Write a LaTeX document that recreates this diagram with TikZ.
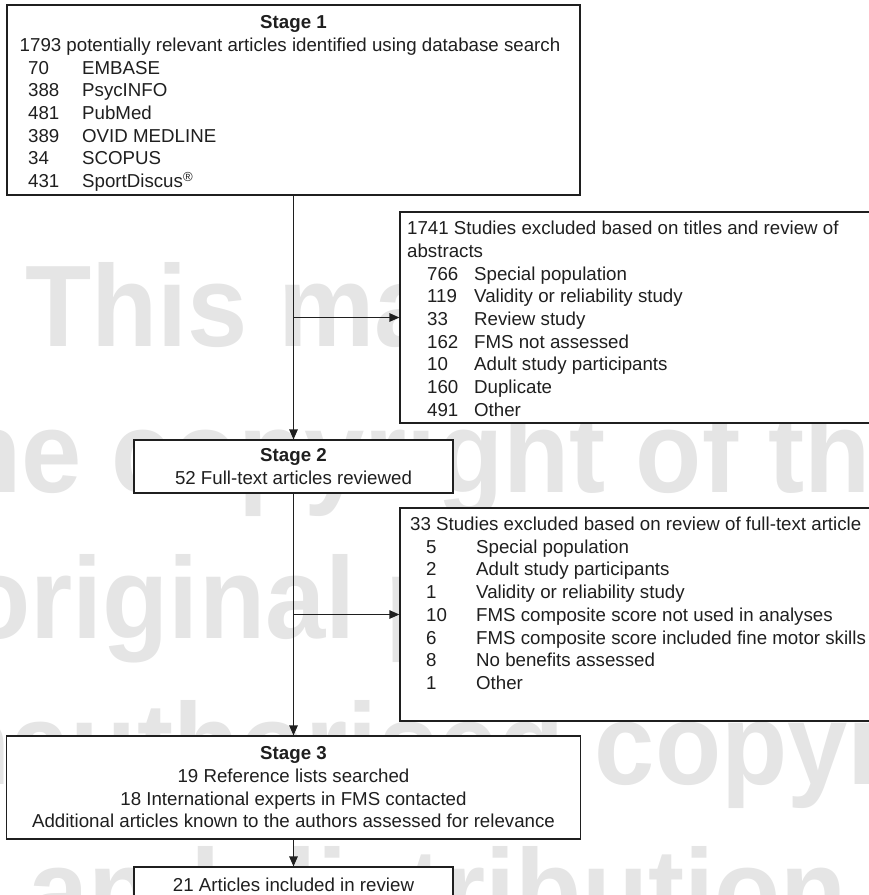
\documentclass[tikz,border=0pt]{standalone}
\usepackage{fontspec}
\setmainfont{Liberation Sans}
\usetikzlibrary{arrows.meta}
\definecolor{ink}{gray}{0.12}
\definecolor{wm}{gray}{0.9}
\newcommand{\fs}{\fontsize{18.7}{22.7}\selectfont}
\newcommand{\wmfont}{\fontsize{108.4}{108.4}\selectfont\bfseries}
\begin{document}
\begin{tikzpicture}[x=1pt,y=-1pt,
  box/.style={draw=ink, line width=1.25pt, fill=white, inner sep=0pt, rectangle},
  txt/.style={inner sep=0pt, text=ink, font=\fs},
  wmtext/.style={inner sep=0pt, text=wm, anchor=base west, font=\wmfont},
  arr/.style={draw=ink, line width=1.25pt, -{Triangle[length=10pt,width=8.5pt]}},
]
\useasboundingbox (0,0) rectangle (869,895);
\clip (0,0) rectangle (869,895);
% watermark
\node[wmtext] (w1) at (25,346) {\scalebox{1}[1.07]{This material is}};
\node[wmtext] (w2) at (-81,492) {\scalebox{1}[1.07]{the copyright of the}};
\node[wmtext] (w3) at (-36,638) {\scalebox{1}[1.07]{original publisher.}};
\node[wmtext] (w4) at (-134,784) {\scalebox{1}[1.07]{Unauthorised copying}};
\node[wmtext] (w5) at (28,930) {\scalebox{1}[1.07]{and distribution is}};
% boxes
\node[box, minimum width=573pt, minimum height=190pt] (s1) at (293.5,100) {};
\node[box, minimum width=480pt, minimum height=211pt] (e1) at (640,317.5) {};
\node[box, minimum width=319pt, minimum height=53pt] (s2) at (293.5,466.5) {};
\node[box, minimum width=480pt, minimum height=213pt] (e2) at (640,614.5) {};
\node[box, minimum width=574pt, minimum height=103pt] (s3) at (293.5,787.5) {};
\node[box, minimum width=319pt, minimum height=38pt] (fin) at (293.5,886) {};
% texts
\node[txt, anchor=base] (s1h) at (293.5,28.7) {\bfseries Stage 1};
\node[txt, anchor=base] (s1a) at (290,51.4) {1793 potentially relevant articles identified using database search};
\node[txt, anchor=base west] (s1l) at (28,74.1) {\begin{tabular}[t]{@{}p{54pt}@{}l@{}}
70 & EMBASE\\
388 & PsycINFO\\
481 & PubMed\\
389 & OVID MEDLINE\\
34 & SCOPUS\\
431 & SportDiscus\textsuperscript{\textregistered}
\end{tabular}};
\node[txt, anchor=base west] (e1t) at (407,234.7) {\begin{tabular}[t]{@{}p{20pt}@{}p{47pt}@{}l@{}}
\multicolumn{3}{@{}l@{}}{1741 Studies excluded based on titles and review of}\\
\multicolumn{3}{@{}l@{}}{abstracts}\\
 & 766 & Special population\\
 & 119 & Validity or reliability study\\
 & 33 & Review study\\
 & 162 & FMS not assessed\\
 & 10 & Adult study participants\\
 & 160 & Duplicate\\
 & 491 & Other
\end{tabular}};
\node[txt, anchor=base] (s2t) at (293.5,461.7) {\begin{tabular}[t]{@{}c@{}}
\bfseries Stage 2\\
52 Full-text articles reviewed
\end{tabular}};
\node[txt, anchor=base west] (e2t) at (410,530.5) {\begin{tabular}[t]{@{}p{16pt}@{}p{50pt}@{}l@{}}
\multicolumn{3}{@{}l@{}}{33 Studies excluded based on review of full-text article}\\
 & 5 & Special population\\
 & 2 & Adult study participants\\
 & 1 & Validity or reliability study\\
 & 10 & FMS composite score not used in analyses\\
 & 6 & FMS composite score included fine motor skills\\
 & 8 & No benefits assessed\\
 & 1 & Other
\end{tabular}};
\node[txt, anchor=base] (s3t) at (293.5,759.7) {\begin{tabular}[t]{@{}c@{}}
\bfseries Stage 3\\
19 Reference lists searched\\
18 International experts in FMS contacted\\
Additional articles known to the authors assessed for relevance
\end{tabular}};
\node[txt, anchor=base] (fint) at (293.5,891.7) {21 Articles included in review};
% connectors
\draw[arr] (s1.south) -- (s2.north);
\draw[arr] (s1.south |- e1.west) -- (e1.west);
\draw[arr] (s2.south) -- (s3.north);
\draw[arr] (s2.south |- e2.west) -- (e2.west);
\draw[arr] (s3.south) -- (fin.north);
\end{tikzpicture}
\end{document}
